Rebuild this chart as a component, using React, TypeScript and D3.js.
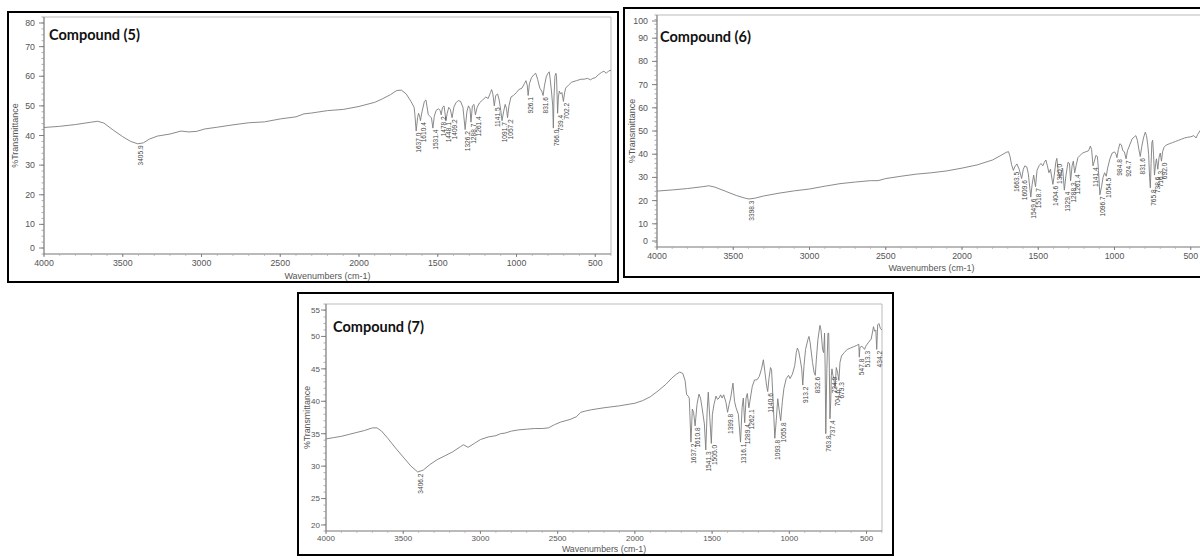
import React from 'react';
import * as d3 from 'd3';

type Pt = [number, number];

const xTicks = [4000, 3500, 3000, 2500, 2000, 1500, 1000, 500];
const c5YTicks = [0, 10, 20, 30, 40, 50, 60, 70, 80];
const c6YTicks = [0, 10, 20, 30, 40, 50, 60, 70, 80, 90, 100];
const c7YTicks = [20, 25, 30, 35, 40, 45, 50, 55];

const c5Spectrum: Pt[] = [
  [4000, 42.7], [3900, 43.1], [3800, 43.7], [3700, 44.5], [3660, 44.8], [3620, 44.2], [3560, 41.8], [3500, 39.6],
  [3450, 38.0], [3405, 37.2], [3370, 37.5], [3330, 38.8], [3280, 39.8], [3200, 40.5], [3130, 41.5], [3080, 41.2],
  [3030, 41.4], [2980, 42.2], [2900, 42.8], [2800, 43.6], [2700, 44.3], [2600, 44.6], [2500, 45.6], [2400, 46.3],
  [2350, 47.3], [2300, 47.6], [2200, 48.4], [2100, 48.8], [2000, 49.8], [1900, 51.2], [1850, 52.4], [1800, 53.8],
  [1760, 55.2], [1730, 55.3], [1700, 54.0], [1670, 51.5], [1650, 49.5], [1645, 47], [1637, 41.5], [1628, 46],
  [1622, 47.5], [1615, 46.5], [1610, 45], [1600, 48], [1585, 51.5], [1575, 52], [1560, 47], [1550, 46.5],
  [1540, 46], [1531, 42.5], [1522, 46.5], [1510, 48.5], [1495, 49], [1485, 48.5], [1478, 47], [1470, 49.5],
  [1460, 50], [1455, 48], [1448, 45], [1440, 47.5], [1430, 49.5], [1420, 48.8], [1409, 46], [1398, 49.5],
  [1385, 51], [1370, 51.8], [1355, 51.5], [1340, 49.5], [1326, 42], [1315, 48], [1305, 50], [1295, 49],
  [1289, 44.5], [1280, 50], [1270, 50.5], [1261, 47], [1250, 49.5], [1235, 51], [1215, 52], [1195, 53],
  [1180, 52.5], [1165, 54.5], [1158, 55.5], [1150, 54], [1141, 50], [1132, 53.5], [1120, 54], [1110, 52],
  [1100, 48.5], [1092, 45], [1082, 48], [1072, 50.5], [1063, 49], [1057, 46], [1048, 50], [1035, 53],
  [1020, 53.5], [1000, 54.5], [985, 55.5], [965, 56], [950, 57.5], [940, 58.5], [932, 57], [926, 53.5],
  [918, 57.5], [905, 59.5], [890, 60.5], [878, 61], [866, 59], [852, 56], [840, 55], [831, 53.5],
  [822, 57], [810, 60], [800, 61], [792, 61.5], [786, 59], [778, 55], [770, 50], [766, 42.5],
  [762, 53], [756, 60], [750, 61], [746, 60], [742, 53], [739, 47.5], [734, 53], [728, 55],
  [720, 54], [712, 54.5], [702, 51.5], [696, 54], [688, 56], [670, 57], [650, 58], [620, 58.5],
  [590, 59], [570, 59], [550, 59.3], [530, 58.8], [515, 59.3], [500, 59.5], [480, 60.5], [460, 61.3],
  [445, 61.7], [430, 61], [415, 61.8], [400, 62],
];
const c5Peaks = ['3405.9', '1637.0', '1610.4', '1531.4', '1478.2', '1448.1', '1409.2', '1326.2', '1288.7', '1261.4',
  '1141.5', '1091.7', '1057.2', '926.1', '831.6', '766.0', '739.4', '702.2'];

const c6Spectrum: Pt[] = [
  [4000, 24.1], [3900, 24.6], [3800, 25.2], [3700, 26.0], [3660, 26.4], [3620, 25.8], [3550, 24.0], [3480, 22.2],
  [3420, 21.0], [3398, 20.7], [3360, 21.0], [3300, 22.0], [3200, 23.2], [3100, 24.2], [3000, 25.0], [2900, 26.2],
  [2800, 27.3], [2700, 28.0], [2600, 28.6], [2550, 28.6], [2500, 29.5], [2400, 30.5], [2300, 31.4], [2200, 32.0],
  [2100, 32.8], [2000, 34.0], [1900, 35.4], [1800, 37.5], [1750, 39.3], [1710, 40.8], [1695, 41.1], [1685, 39],
  [1675, 35.5], [1663, 33], [1655, 34.5], [1640, 35.8], [1625, 33.5], [1609, 29.5], [1598, 33.5], [1588, 35],
  [1575, 34.5], [1565, 31.5], [1549, 21.5], [1540, 27], [1530, 31], [1518, 26], [1508, 33], [1495, 35],
  [1482, 36], [1470, 35], [1460, 36.5], [1450, 37.5], [1440, 35], [1430, 32], [1420, 33.5], [1404, 27],
  [1395, 31], [1385, 36.5], [1378, 38.2], [1370, 33], [1360, 30], [1350, 31.5], [1340, 34], [1329, 24.5],
  [1318, 31], [1305, 36.5], [1295, 36], [1288, 28.5], [1278, 35], [1270, 37], [1261, 32], [1252, 35],
  [1240, 38.5], [1225, 39.5], [1210, 40.5], [1190, 41], [1170, 41.5], [1158, 43.5], [1150, 42], [1141, 35],
  [1132, 37], [1122, 39.5], [1112, 39], [1105, 33], [1096, 22.5], [1085, 26], [1075, 30], [1065, 32],
  [1054, 30.5], [1045, 34], [1030, 38], [1015, 40.5], [1000, 41], [990, 40], [984, 38.5], [975, 42],
  [965, 44.5], [955, 44], [945, 41.5], [935, 41], [924, 38], [915, 41.5], [900, 44], [885, 46.5],
  [870, 47.5], [860, 48], [850, 46], [840, 42], [831, 39], [822, 43], [810, 47], [798, 49.5],
  [790, 48], [782, 44], [776, 40], [770, 30], [765, 25.5], [760, 36], [755, 45], [750, 46],
  [744, 40], [738, 31], [730, 36], [725, 38], [716, 33.5], [708, 38.5], [700, 40.5], [692, 37],
  [685, 41], [675, 43], [660, 44], [640, 44.5], [620, 45], [600, 45.5], [580, 46], [560, 46.5],
  [540, 47], [520, 47.3], [500, 47.5], [480, 48], [465, 47], [455, 48.5], [440, 50], [425, 51.5],
  [415, 52], [400, 53],
];
const c6Peaks = ['3398.3', '1663.5', '1609.6', '1549.6', '1518.7', '1404.6', '1380.0', '1329.4', '1288.3', '1261.4',
  '1141.4', '1096.7', '1054.5', '984.8', '924.7', '831.6', '765.8', '738.6', '716.3', '692.0'];

const c7Spectrum: Pt[] = [
  [4000, 34.2], [3950, 34.4], [3900, 34.6], [3850, 34.9], [3800, 35.2], [3750, 35.5], [3700, 35.9], [3670, 35.9],
  [3640, 35.4], [3600, 34.3], [3550, 32.8], [3500, 31.4], [3450, 30.0], [3406, 29.1], [3370, 29.4], [3330, 30.2],
  [3280, 31.0], [3230, 31.6], [3180, 32.2], [3130, 33.0], [3110, 33.3], [3080, 32.9], [3040, 33.5], [3000, 34.1],
  [2950, 34.5], [2900, 34.7], [2870, 35.0], [2840, 35.1], [2800, 35.4], [2750, 35.6], [2700, 35.7], [2650, 35.8],
  [2600, 35.8], [2560, 35.9], [2520, 36.4], [2480, 36.8], [2420, 37.2], [2380, 37.6], [2350, 38.3], [2320, 38.5],
  [2280, 38.7], [2200, 39.0], [2100, 39.3], [2000, 39.7], [1950, 40.1], [1900, 40.7], [1850, 41.6], [1800, 42.6],
  [1760, 43.6], [1730, 44.2], [1710, 44.5], [1690, 44.3], [1675, 43.2], [1665, 41.0], [1655, 40.8], [1648, 40.5],
  [1637, 33.7], [1628, 38.8], [1620, 38.3], [1610, 36.2], [1598, 39.5], [1585, 41.1], [1575, 40.5], [1562, 38.5],
  [1550, 36.5], [1541, 32.5], [1532, 38.5], [1525, 41.4], [1515, 37.5], [1505, 33.5], [1498, 38], [1488, 39.5],
  [1475, 40.8], [1465, 40.3], [1455, 40.5], [1445, 41], [1435, 40.5], [1425, 41], [1410, 39.8], [1400, 38.3],
  [1390, 39.5], [1380, 40.5], [1365, 42.8], [1355, 40], [1345, 39], [1330, 38], [1316, 33.7], [1306, 39],
  [1298, 40.5], [1289, 36.7], [1280, 40.5], [1272, 41.2], [1262, 39], [1252, 40.5], [1240, 42.3], [1225, 43.3],
  [1210, 43.3], [1195, 43.8], [1180, 45], [1168, 46.4], [1158, 44.5], [1148, 42.5], [1140, 41.5], [1132, 43.5],
  [1122, 45.2], [1115, 44.8], [1105, 40], [1094, 34.3], [1085, 37], [1075, 40.4], [1065, 38.5], [1056, 37],
  [1045, 40], [1035, 42], [1020, 43.5], [1005, 44], [995, 43.5], [980, 44.2], [965, 45.5], [955, 47.5],
  [948, 48.2], [940, 47.8], [930, 46.5], [920, 45], [913, 42.5], [905, 45.5], [895, 48], [880, 49.5],
  [873, 50], [865, 49], [850, 46], [840, 44.5], [832, 44], [825, 46.5], [815, 49.5], [802, 51.7],
  [795, 51], [785, 48], [778, 47.5], [772, 50.5], [768, 45], [764, 35], [757, 45], [750, 50.5],
  [745, 50.5], [741, 45], [737, 37.3], [732, 40], [728, 44], [724, 45], [718, 44], [712, 43.5],
  [704, 42], [696, 45.2], [688, 44.5], [679, 43.2], [672, 46], [662, 47], [645, 47.5], [625, 48],
  [605, 48.2], [585, 48.4], [565, 48.6], [550, 48.8], [547, 46.8], [543, 48.3], [530, 48.5], [520, 48.2],
  [513, 48], [505, 48.5], [490, 49], [470, 49.6], [455, 51.5], [448, 50.8], [440, 51], [434, 48],
  [428, 51.8], [420, 52], [410, 51.2], [400, 51],
];
const c7Peaks = ['3406.2', '1637.2', '1610.8', '1541.3', '1505.0', '1399.8', '1316.1', '1289.4', '1262.1', '1140.6',
  '1093.8', '1055.8', '913.2', '832.6', '763.8', '737.4', '724.9', '704.6', '679.3', '547.8', '513.3', '434.2'];

type Cfg = {
  title: string;
  box: { x: number; y: number; w: number; h: number };
  x0: number; x1: number;
  yDomain: [number, number];
  yBot: number; yTop: number;
  minorStep: number;
  tickFont: number;
  labelGap: number;
  tickDy: number;
  titleX: number; titleY: number;
  yLabelX: number;
  xLabelY: number;
  axisFont: number;
};

const cfg5: Cfg = {
  title: 'Compound (5)', box: { x: 8, y: 12, w: 610, h: 270 },
  x0: 44, x1: 611, yDomain: [0, 80], yBot: 254, yTop: 17, minorStep: 2, tickFont: 8.8, labelGap: 9, tickDy: 12,
  titleX: 49, titleY: 40, yLabelX: 18, xLabelY: 279, axisFont: 9,
};
const cfg6: Cfg = {
  title: 'Compound (6)', box: { x: 624, y: 8, w: 600, h: 269 },
  x0: 657, x1: 1206, yDomain: [0, 100], yBot: 247, yTop: 15, minorStep: 2, tickFont: 8.8, labelGap: 9, tickDy: 12,
  titleX: 660, titleY: 42, yLabelX: 635, xLabelY: 271, axisFont: 9,
};
const cfg7: Cfg = {
  title: 'Compound (7)', box: { x: 298, y: 293, w: 595, h: 262 },
  x0: 326, x1: 882, yDomain: [20, 55], yBot: 531, yTop: 304, minorStep: 1, tickFont: 8, labelGap: 6, tickDy: 9.5,
  titleX: 333, titleY: 332, yLabelX: 310, xLabelY: 552, axisFont: 8.8,
};

const FONT = "'Liberation Sans', Arial, sans-serif";

function Panel({ cfg, spectrum, peaks, yTicks }: { cfg: Cfg; spectrum: Pt[]; peaks: string[]; yTicks: number[] }) {
  const x = d3.scaleLinear().domain([4000, 400]).range([cfg.x0, cfg.x1]);
  const y = d3.scaleLinear().domain(cfg.yDomain).range([cfg.yBot, cfg.yTop]);
  const line = d3.line<Pt>().x((d) => x(d[0])).y((d) => y(d[1]));
  const [lo, hi] = cfg.yDomain;
  const minors = d3.range(lo, hi + 0.001, cfg.minorStep);
  const xMinors = d3.range(4000, 399, -100);
  const peakFont = 6.6;

  const peakMin = (wn: number) => {
    const near = spectrum.filter((p) => Math.abs(p[0] - wn) <= 5);
    return near.length ? d3.min(near, (p) => p[1])! : spectrum.reduce((a, b) => (Math.abs(b[0] - wn) < Math.abs(a[0] - wn) ? b : a))[1];
  };

  return (
    <g>
      <rect x={cfg.box.x} y={cfg.box.y} width={cfg.box.w} height={cfg.box.h} fill="#fff" stroke="#000" strokeWidth={2} />
      <line x1={cfg.x0} x2={cfg.x1} y1={cfg.yTop} y2={cfg.yTop} stroke="#bbb" strokeWidth={1} />
      <line x1={cfg.x1} x2={cfg.x1} y1={cfg.yTop} y2={cfg.yBot} stroke="#bbb" strokeWidth={1} />
      <line x1={cfg.x0} x2={cfg.x1} y1={cfg.yBot} y2={cfg.yBot} stroke="#777" strokeWidth={1.2} />
      <line x1={cfg.x0} x2={cfg.x0} y1={cfg.yTop} y2={cfg.yBot} stroke="#777" strokeWidth={1.2} />
      {minors.map((v) => (
        <line key={'m' + v} x1={cfg.x0 - 2.5} x2={cfg.x0} y1={y(v)} y2={y(v)} stroke="#999" strokeWidth={0.8} />
      ))}
      {yTicks.map((v, i) => {
        const nudge = i === 0 ? -6 : i === yTicks.length - 1 ? 6 : 0;
        return (
          <g key={'y' + v}>
            <line x1={cfg.x0 - 5} x2={cfg.x0} y1={y(v) + nudge} y2={y(v) + nudge} stroke="#777" strokeWidth={0.9} />
            <text x={cfg.x0 - cfg.labelGap} y={y(v) + nudge} dy="0.35em" textAnchor="end" fontSize={cfg.tickFont}
              fill="#555" fontFamily={FONT}>{v}</text>
          </g>
        );
      })}
      {xMinors.map((v) => (
        <line key={'xm' + v} x1={x(v)} x2={x(v)} y1={cfg.yBot} y2={cfg.yBot + 2} stroke="#aaa" strokeWidth={0.7} />
      ))}
      {xTicks.map((v) => (
        <g key={'x' + v}>
          <line x1={x(v)} x2={x(v)} y1={cfg.yBot} y2={cfg.yBot + 3} stroke="#777" strokeWidth={0.9} />
          <text x={x(v)} y={cfg.yBot + cfg.tickDy} textAnchor="middle" fontSize={cfg.tickFont} fill="#555" fontFamily={FONT}>{v}</text>
        </g>
      ))}
      <text transform={`translate(${cfg.yLabelX},${(cfg.yTop + cfg.yBot) / 2}) rotate(-90)`} textAnchor="middle"
        fontSize={cfg.axisFont} fill="#555" fontFamily={FONT}>%Transmittance</text>
      <text x={(cfg.x0 + cfg.x1) / 2} y={cfg.xLabelY} textAnchor="middle" fontSize={cfg.axisFont} fill="#555" fontFamily={FONT}>
        Wavenumbers (cm-1)
      </text>
      <path d={line(spectrum) || ''} fill="none" stroke="#7d7d7d" strokeWidth={0.9} strokeLinejoin="round" />
      {peaks.map((p) => {
        const wn = parseFloat(p);
        const px = x(wn) + 3 + peakFont * 0.35;
        const py = y(peakMin(wn)) + 1.5;
        return (
          <text key={'p' + p} transform={`translate(${px},${py}) rotate(-90)`} textAnchor="end" fontSize={peakFont}
            fill="#444" fontFamily={FONT}>{p}</text>
        );
      })}
      <text x={cfg.titleX} y={cfg.titleY} fontSize={14.5} fontWeight={700} fill="#111" fontFamily="Lato, 'Open Sans', sans-serif">
        {cfg.title}
      </text>
    </g>
  );
}

export default function App() {
  return (
    <div style={{ position: 'absolute', left: 0, top: 0, width: 1200, height: 558, background: '#fff' }}>
      <svg width={1200} height={558} viewBox="0 0 1200 558" style={{ display: 'block' }}>
        <rect x={0} y={0} width={1200} height={558} fill="#fff" />
        <Panel cfg={cfg5} spectrum={c5Spectrum} peaks={c5Peaks} yTicks={c5YTicks} />
        <Panel cfg={cfg6} spectrum={c6Spectrum} peaks={c6Peaks} yTicks={c6YTicks} />
        <Panel cfg={cfg7} spectrum={c7Spectrum} peaks={c7Peaks} yTicks={c7YTicks} />
      </svg>
    </div>
  );
}
